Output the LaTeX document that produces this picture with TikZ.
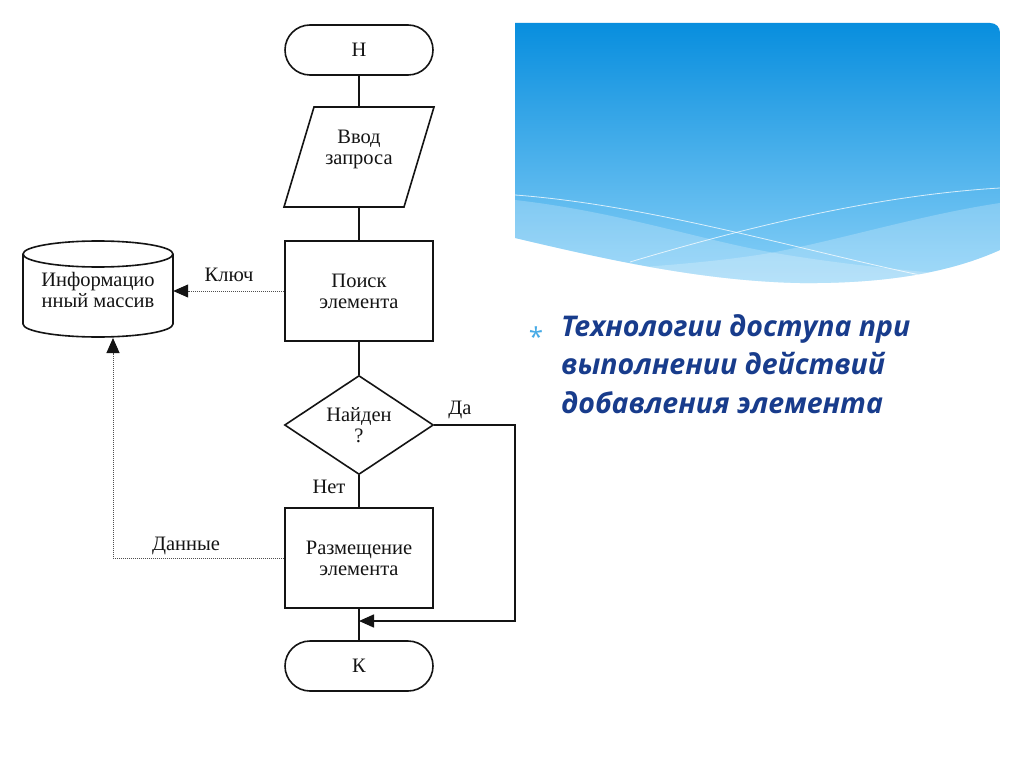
\documentclass[tikz,border=0pt]{standalone}
\usepackage{fontspec}
\setmainfont{Liberation Serif}
\newfontfamily\slidefont{Open Sans}
\usetikzlibrary{arrows.meta,shapes.geometric}
\definecolor{navy}{RGB}{24,60,140}
\definecolor{bluetop}{RGB}{8,142,222}
\definecolor{bluebot}{RGB}{140,210,248}
\definecolor{bulletblue}{RGB}{70,170,230}
\definecolor{ink}{RGB}{20,20,20}
\begin{document}
\begin{tikzpicture}[x=1pt,y=-1pt,
  every node/.style={text=ink, font=\fontsize{20.5}{21}\selectfont},
  fline/.style={draw=ink, line width=1.6pt},
  term/.style={fline, rounded corners=25pt, minimum width=148pt, minimum height=50pt},
  proc/.style={fline, minimum width=148pt, minimum height=100pt, align=center},
  decis/.style={fline, diamond, minimum width=149pt, minimum height=99pt, inner sep=0pt, aspect=1.5, align=center},
  iobox/.style={minimum width=120pt, minimum height=100pt, align=center},
  dbbox/.style={minimum width=150pt, minimum height=96pt, align=center},
  dotline/.style={draw=ink!75, line width=1pt, densely dotted},
  tip/.style={-{Triangle[length=15pt,width=13pt,color=ink]}},
  lbl/.style={inner sep=1pt}
]
\useasboundingbox[fill=white] (0,0) rectangle (1024,767);

% banner
\begin{scope}
\clip (515,23) -- (990,23) .. controls (996,23) and (1000,27) .. (1000,33) -- (1000,250)
  .. controls (960,268) and (900,284) .. (800,283) .. controls (700,281) and (600,258) .. (515,238) -- cycle;
\shade[top color=bluetop,bottom color=bluebot] (515,23) rectangle (1000,290);
\fill[white,opacity=0.22] (515,200) .. controls (620,212) and (700,240) .. (775,253)
  .. controls (850,266) and (950,275) .. (1000,278) -- (1000,300) -- (515,300) -- cycle;
\fill[white,opacity=0.22] (1000,203) .. controls (920,215) and (840,240) .. (770,253)
  .. controls (700,265) and (600,270) .. (515,275) -- (515,300) -- (1000,300) -- cycle;
\draw[white,opacity=0.75,line width=0.8pt] (515,195) .. controls (650,205) and (800,250) .. (920,275);
\draw[white,opacity=0.75,line width=0.8pt] (630,262) .. controls (750,226) and (880,195) .. (1000,188);
\end{scope}

% slide text
\node[text=bulletblue, font=\slidefont\fontsize{26}{26}\selectfont] (bul) at (536,337) {*};
\node[anchor=north west, align=left, inner sep=0pt, text=navy,
  font=\slidefont\bfseries\itshape\fontsize{28.5}{38.5}\selectfont] (txt) at (561,314)
  {Технологии доступа при\\выполнении действий\\добавления элемента};

% flowchart nodes
\node[term] (start) at (359,50) {Н};
\node[iobox] (inp) at (359,157) {Ввод\\запроса\\[-2pt]};
\draw[fline] (314,107) -- (434,107) -- (404,207) -- (284,207) -- cycle;
\node[proc] (search) at (359,291) {Поиск\\элемента};
\node[decis] (dec) at (359,425) {Найден\\?};
\node[proc] (place) at (359,558) {Размещение\\элемента};
\node[term] (end) at (359,666) {К};

\node[dbbox] (db) at (98,290) {Информацио\\нный массив};
\draw[fline] (23,254) -- (23,324) arc[start angle=180,end angle=0,x radius=75,y radius=13] -- (173,254);
\draw[fline] (98,254) ellipse[x radius=75,y radius=13];

\coordinate (join) at (359,621);
\coordinate (rt) at (515,621);
\coordinate (dbin) at (113,338);

% connectors
\draw[fline] (start) -- (inp);
\draw[fline] (inp) -- (search);
\draw[fline] (search) -- (dec);
\draw[fline] (dec) -- (place);
\draw[fline] (place) -- (end);
\draw[fline, tip] (dec.east) -| (rt) -- (join);
\draw[dotline, tip] (search.west) -- (search.west -| db.east);
\draw[dotline, tip] (place.west) -| (dbin);

% labels
\node[lbl] (lkey) at (229,275) {Ключ};
\node[lbl] (lyes) at (460,410) {Да};
\node[lbl] (lno) at (329,487) {Нет};
\node[lbl] (ldata) at (186,546) {Данные};
\end{tikzpicture}
\end{document}
